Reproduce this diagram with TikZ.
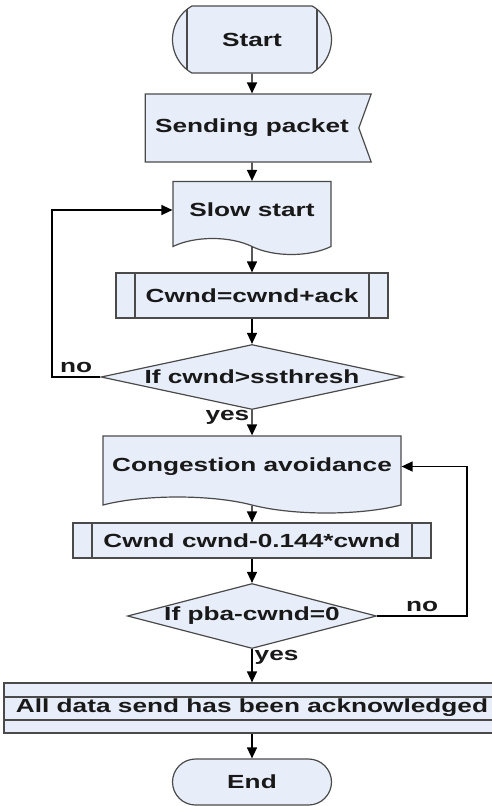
\documentclass[tikz,border=0pt]{standalone}
\usepackage{fontspec}
\newfontfamily\flowfont{Liberation Sans}[FakeStretch=1.38]
\usetikzlibrary{shapes.geometric,shapes.misc,shapes.symbols,arrows.meta}

\definecolor{boxfill}{HTML}{E8EEF9}
\definecolor{boxline}{HTML}{4A4A4A}
\newcommand{\slim}[1]{\makebox[0pt][c]{#1}}

\tikzstyle{base} = [fill=boxfill, draw=boxline, line width=1.2pt, text centered, inner sep=0pt, text=black!90, font=\flowfont\bfseries\fontsize{19}{22}\selectfont]
\tikzstyle{term} = [base, rounded rectangle, minimum width=159pt, minimum height=46pt]
\tikzstyle{termbar} = [term, rounded rectangle arc length=120, minimum height=67pt,
  path picture={\draw[boxline, line width=1.2pt] ([xshift=20pt]path picture bounding box.north west) -- ([xshift=20pt]path picture bounding box.south west)
                ([xshift=-20pt]path picture bounding box.north east) -- ([xshift=-20pt]path picture bounding box.south east);}]
\tikzstyle{proc} = [base, rectangle,
  path picture={\draw[boxline, line width=1.2pt] ([xshift=19pt]path picture bounding box.north west) -- ([xshift=19pt]path picture bounding box.south west)
                ([xshift=-19pt]path picture bounding box.north east) -- ([xshift=-19pt]path picture bounding box.south east);}]
\tikzstyle{store} = [base, rectangle,
  path picture={\draw[boxline, line width=1.2pt] ([yshift=-14pt]path picture bounding box.north west) -- ([yshift=-14pt]path picture bounding box.north east)
                ([yshift=13pt]path picture bounding box.south west) -- ([yshift=13pt]path picture bounding box.south east);}]
\tikzstyle{signalbox} = [base, signal, signal to=nowhere, signal from=east, signal pointer angle=140]
\tikzstyle{doc} = [base, tape, tape bend top=none, tape bend bottom=out and in, tape bend height=16pt]
\tikzstyle{decision} = [base, diamond, minimum height=65pt]
\tikzstyle{line} = [draw, -{Triangle[length=11pt,width=10pt]}, line width=1.4pt]
\tikzstyle{lbl} = [inner sep=2pt, text=black!90, font=\flowfont\bfseries\fontsize{19}{22}\selectfont]

\begin{document}
\begin{tikzpicture}[x=1pt, y=-1pt, node distance=80pt]
    \useasboundingbox (0,0) rectangle (492,806);
    % Place nodes
    \node [termbar] at (252,39.5) (start) {Start};
    \node [signalbox, below of=start, node distance=88.5pt, minimum width=226pt, minimum height=68pt] (send) {Sending packet};
    \node [doc, below of=send, node distance=82pt, minimum width=158pt, minimum height=73pt] (slow) {Slow start};
    \node [proc, below of=slow, node distance=85.5pt, minimum width=272pt, minimum height=45pt] (cwnd1) {Cwnd=cwnd+ack};
    \node [decision, below of=cwnd1, node distance=81.5pt, minimum width=302pt] (dec1) {\slim{If cwnd>ssthresh}};
    \node [doc, below of=dec1, node distance=89.5pt, minimum width=298pt, minimum height=77pt] (cong) {Congestion avoidance};
    \node [proc, below of=cong, node distance=74pt, minimum width=358pt, minimum height=35pt] (cwnd2) {Cwnd cwnd-0.144*cwnd};
    \node [decision, below of=cwnd2, node distance=75.5pt, minimum width=249pt] (dec2) {\slim{If pba-cwnd=0}};
    \node [store, below of=dec2, node distance=92pt, minimum width=496pt, minimum height=50pt] (alldata) {All data send has been acknowledged};
    \node [term, below of=alldata, node distance=74pt] (end) {End};
    \coordinate (loop1) at (52,377);
    \coordinate (loop2) at (467,616);
    % Draw edges
    \draw [line] (start) -- (send);
    \draw [line] (send) -- (slow);
    \draw [line] (slow) -- (cwnd1);
    \draw [line] (cwnd1) -- (dec1);
    \draw [line] (dec1) -- node[lbl, left, pos=0.3]{yes} (cong);
    \draw [line] (dec1.west) -- node[lbl, above, yshift=2pt]{no} (loop1) |- (slow.west);
    \draw [line] (cong) -- (cwnd2);
    \draw [line] (cwnd2) -- (dec2);
    \draw [line] (dec2) -- node[lbl, right, pos=0.25]{yes} (alldata);
    \draw [line] (dec2.east) -- node[lbl, above, yshift=2pt]{no} (loop2) |- (cong.east);
    \draw [line] (alldata) -- (end);
\end{tikzpicture}
\end{document}
